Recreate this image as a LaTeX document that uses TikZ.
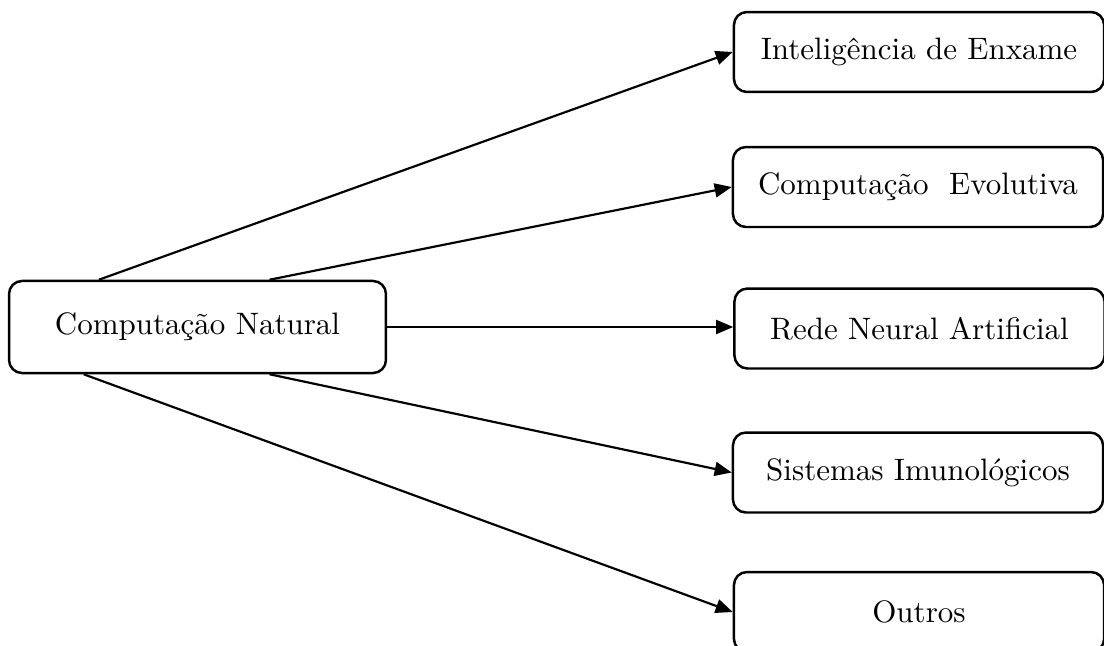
\documentclass[tikz,border=0pt]{standalone}
\usepackage{tikz}
\usetikzlibrary{calc,arrows.meta}

\begin{document}
\begin{tikzpicture}[x=0.3226pt,y=-0.3226pt,
  box/.style={draw, line width=0.8pt, rounded corners=4.2pt, minimum width=119.4pt, minimum height=25.8pt, inner sep=2pt},
  seta/.style={line width=0.7pt, -{Triangle[length=5.5pt,width=4.5pt]}}]
\path[use as bounding box, clip] (0,0) rectangle (1104,645);
\node[box, minimum width=121.6pt, minimum height=29.7pt] (cn) at (197.5,327) {Computação Natural};
\node[box] (ie) at (919,52) {Inteligência de Enxame};
\node[box] (ce) at (918,187) {Computação~ Evolutiva};
\node[box] (rn) at (919.5,328.5) {Rede Neural Artificial};
\node[box] (si) at (918,472.5) {Sistemas Imunológicos};
\node[box] (ou) at (919,612) {Outros};
% pontos de saida
\coordinate (n1) at ($(cn.north west)!0.24!(cn.north east)$);
\coordinate (n2) at ($(cn.north west)!0.69!(cn.north east)$);
\coordinate (s1) at ($(cn.south west)!0.20!(cn.south east)$);
\coordinate (s2) at ($(cn.south west)!0.69!(cn.south east)$);
\draw[seta] (n1) -- (ie.west);
\draw[seta] (n2) -- (ce.west);
\draw[seta] (cn.east) -- (cn.east -| rn.west);
\draw[seta] (s2) -- (si.west);
\draw[seta] (s1) -- (ou.west);
\end{tikzpicture}
\end{document}
